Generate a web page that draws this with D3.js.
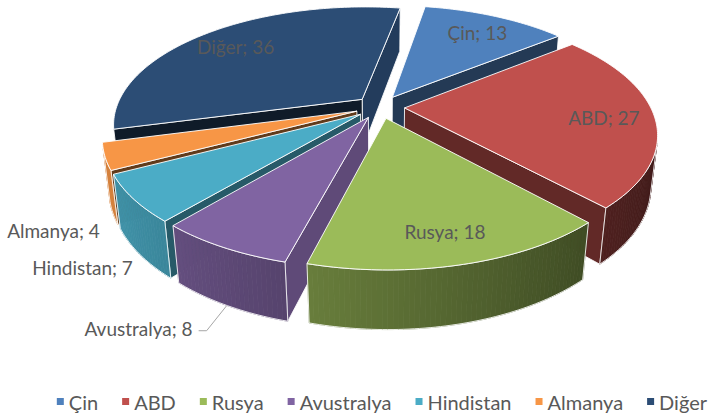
<!DOCTYPE html>
<html>
<head>
<meta charset="utf-8">
<script src="https://cdn.jsdelivr.net/npm/d3@7"></script>
<style>
body { margin: 0; background: #fff; }
text { font-family: Lato, "Noto Sans", sans-serif; }
</style>
</head>
<body>
<svg id="chart" width="710" height="417"></svg>
<script>
// data
const categories = ["Çin", "ABD", "Rusya", "Avustralya", "Hindistan", "Almanya", "Diğer"];
const values = [13, 27, 18, 8, 7, 4, 36];
const colors = ["#4F81BD", "#C0504D", "#9BBB59", "#8064A2", "#4BACC6", "#F79646", "#2C4D75"];
const outsideLabels = ["Avustralya", "Hindistan", "Almanya"];

const svg = d3.select("#chart");
const deg = Math.PI / 180;

// camera / perspective setup (roughly what excel uses for a 3d pie)
const tilt = 26.7 * deg, dist = 4.29, fx = 1055, fy = 1094, ox = 380, oy = 107;
const rot = 10 * deg, depth = 0.225, explode = 0.1;
const camY = dist * Math.sin(tilt), camZ = -dist * Math.cos(tilt);

function project(X, Y, Z) {
    const vy = Y - camY, vz = Z - camZ;
    const zc = -vy * Math.sin(tilt) + vz * Math.cos(tilt);
    const yc = vy * Math.cos(tilt) + vz * Math.sin(tilt);
    return [ox + fx * X / zc, oy - fy * yc / zc, zc];
}
function clamp(v, a, b) { return Math.max(a, Math.min(b, v)); }
function shade(c, f) {
    const r = d3.rgb(c);
    return d3.rgb(r.r * f, r.g * f, r.b * f).formatHex();
}

const pie = d3.pie().sort(null).value(d => d.value);
const arcs = pie(categories.map((c, i) => ({name: c, value: values[i], color: colors[i]})));
arcs.forEach(a => {
    a.color = a.data.color;
    a.t0 = a.startAngle + rot;
    a.t1 = a.endAngle + rot;
    a.tm = (a.t0 + a.t1) / 2;
    a.dx = explode * Math.sin(a.tm);
    a.dz = explode * Math.cos(a.tm);
});

function pt(a, r, th, Y) {
    return project(a.dx + r * Math.sin(th), Y, a.dz + r * Math.cos(th));
}
function angles(th0, th1) {
    const n = Math.max(2, Math.ceil((th1 - th0) / deg));
    return d3.range(n + 1).map(i => th0 + (th1 - th0) * i / n);
}
const line = d3.line().x(p => p[0]).y(p => p[1]);
const path = pts => line(pts) + "Z";

// walls: radial sides + outer curved side
const faces = [];
arcs.forEach(a => {
    [[a.t0, -1], [a.t1, 1]].forEach(([th, s]) => {
        const nx = s * Math.cos(th), nz = -s * Math.sin(th);
        const dot = nx * (0 - a.dx) + nz * (camZ - a.dz);
        if (dot <= 0) return;
        const P = [pt(a, 0, th, 0), pt(a, 1, th, 0), pt(a, 1, th, -depth), pt(a, 0, th, -depth)];
        const f = clamp(0.88 + 0.55 * Math.cos(Math.atan2(nx, nz)), 0.35, 0.85);
        faces.push({pts: P, fill: shade(a.color, f), strips: [], z: d3.mean(P, p => p[2])});
    });

    const vis = angles(a.t0, a.t1).filter(th =>
        -a.dx * Math.sin(th) - 1 + Math.cos(th) * (camZ - a.dz) > 0);
    if (vis.length > 1) {
        const top = vis.map(th => pt(a, 1, th, 0));
        const bot = vis.map(th => pt(a, 1, th, -depth));
        // thin strips give the shaded look of the curved side
        const strips = d3.range(vis.length - 1).map(k => ({
            pts: [top[k], top[k + 1], bot[k + 1], bot[k]],
            fill: shade(a.color, clamp(0.6 - 0.28 * Math.sin((vis[k] + vis[k + 1]) / 2), 0.3, 0.92))
        }));
        const P = top.concat(bot.slice().reverse());
        faces.push({pts: P, fill: "none", strips: strips, z: d3.mean(P, p => p[2])});
    }
});

faces.sort((p, q) => q.z - p.z);
const wall = svg.append("g").selectAll("g")
    .data(faces)
    .enter()
    .append("g");
wall.selectAll("path.strip")
    .data(d => d.strips)
    .enter()
    .append("path")
    .attr("class", "strip")
    .attr("d", d => path(d.pts))
    .attr("fill", d => d.fill)
    .attr("stroke", d => d.fill)
    .attr("stroke-width", 0.8);
wall.append("path")
    .attr("d", d => path(d.pts))
    .attr("fill", d => d.fill)
    .attr("stroke", "rgba(255,255,255,0.85)")
    .attr("stroke-width", 1)
    .attr("stroke-linejoin", "round");

// top faces
svg.append("g").selectAll("path")
    .data(arcs)
    .enter()
    .append("path")
    .attr("d", a => path([pt(a, 0, a.t0, 0)].concat(angles(a.t0, a.t1).map(th => pt(a, 1, th, 0)))))
    .attr("fill", a => a.color)
    .attr("stroke", "rgba(255,255,255,0.9)")
    .attr("stroke-width", 1)
    .attr("stroke-linejoin", "round");

// data labels
const labelColor = "#595959";
const nudge = {"Avustralya": [-35, 23], "Hindistan": [-7, 13], "Almanya": [-12, 21]};
const labels = svg.append("g").attr("font-size", 19).attr("fill", labelColor);

arcs.forEach(a => {
    const txt = a.data.name + "; " + a.data.value;
    if (outsideLabels.indexOf(a.data.name) < 0) {
        const p = pt(a, 0.8, a.tm, 0);
        labels.append("text").attr("x", p[0]).attr("y", p[1] + 2)
            .attr("text-anchor", "middle").attr("dominant-baseline", "central").text(txt);
    } else {
        const anc = pt(a, 1, a.tm, -depth);
        const n = nudge[a.data.name];
        const lx = anc[0] + n[0], ly = anc[1] + n[1];
        labels.append("text").attr("x", lx).attr("y", ly)
            .attr("text-anchor", "end").attr("dominant-baseline", "central").text(txt);
        if (Math.hypot(n[0], n[1]) > 40) {
            svg.append("path")
                .attr("d", d3.line()([[lx + 6, ly + 2], [lx + 14, ly + 2], [anc[0] - 1, anc[1]]]))
                .attr("fill", "none").attr("stroke", "#A6A6A6").attr("stroke-width", 1);
        }
    }
});

// legend
const legend = svg.append("g").attr("font-size", 20).attr("fill", labelColor);
const items = legend.selectAll("g")
    .data(arcs)
    .enter()
    .append("g");
items.append("rect").attr("width", 7).attr("height", 7).attr("y", -4)
    .attr("fill", a => a.color);
items.append("text").attr("x", 12).attr("dominant-baseline", "central")
    .text(a => a.data.name);
let lx = 0;
items.each(function () {
    const w = this.querySelector("text").getComputedTextLength();
    d3.select(this).attr("transform", "translate(" + lx + ",0)");
    lx += 12 + w + 24;
});
lx -= 24;
legend.attr("transform", "translate(" + Math.min(60, 707 - lx) + ",402)");
</script>
</body>
</html>
